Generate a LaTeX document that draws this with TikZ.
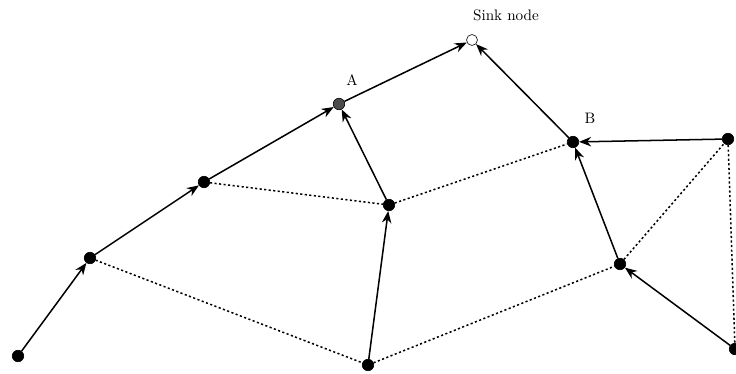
\documentclass[tikz,border=0pt]{standalone}
\usepackage{tikz}
\usetikzlibrary{arrows.meta}

\begin{document}
\begin{tikzpicture}[
    x=0.66pt, y=-0.66pt,
    sensor/.style={circle, draw, fill=black, inner sep=0pt, minimum size=7.6pt},
    headnode/.style={circle, draw, fill=black!70, inner sep=0pt, minimum size=7.6pt},
    sinknode/.style={circle, draw, fill=white, inner sep=0pt, minimum size=7.2pt},
    label/.style={font=\normalsize, inner sep=1pt},
    arrow/.style={-{Stealth[length=2.8mm, width=2.2mm, inset=0.9mm]}, line width=1pt},
    link/.style={line width=1pt, dash pattern=on 1.4pt off 1.6pt}
]
\useasboundingbox (0,0) rectangle (736,374);
\node[sinknode] (sink) at (472,40) {};
\node[headnode] (a) at (339,104) {};
\node[sensor] (b) at (573,142) {};
\node[sensor] (n1) at (18,356) {};
\node[sensor] (n2) at (90,258) {};
\node[sensor] (n3) at (204,182) {};
\node[sensor] (n4) at (389,205) {};
\node[sensor] (n5) at (368,365) {};
\node[sensor] (n6) at (620,264) {};
\node[sensor] (n7) at (728,139) {};
\node[sensor] (n8) at (735,349) {};
\node[label] (sinklbl) at (506,15) {Sink node};
\node[label] (albl) at (352,80) {A};
\node[label] (blbl) at (590,118) {B};
% routes to the sink
\draw[arrow] (n1) -- (n2);
\draw[arrow] (n2) -- (n3);
\draw[arrow] (n3) -- (a);
\draw[arrow] (a) -- (sink);
\draw[arrow] (n4) -- (a);
\draw[arrow] (n5) -- (n4);
\draw[arrow] (b) -- (sink);
\draw[arrow] (n7) -- (b);
\draw[arrow] (n6) -- (b);
\draw[arrow] (n8) -- (n6);
% other links
\draw[link] (n2) -- (n5);
\draw[link] (n3) -- (n4);
\draw[link] (n4) -- (b);
\draw[link] (n5) -- (n6);
\draw[link] (n6) -- (n7);
\draw[link] (n7) -- (n8);
\end{tikzpicture}
\end{document}
